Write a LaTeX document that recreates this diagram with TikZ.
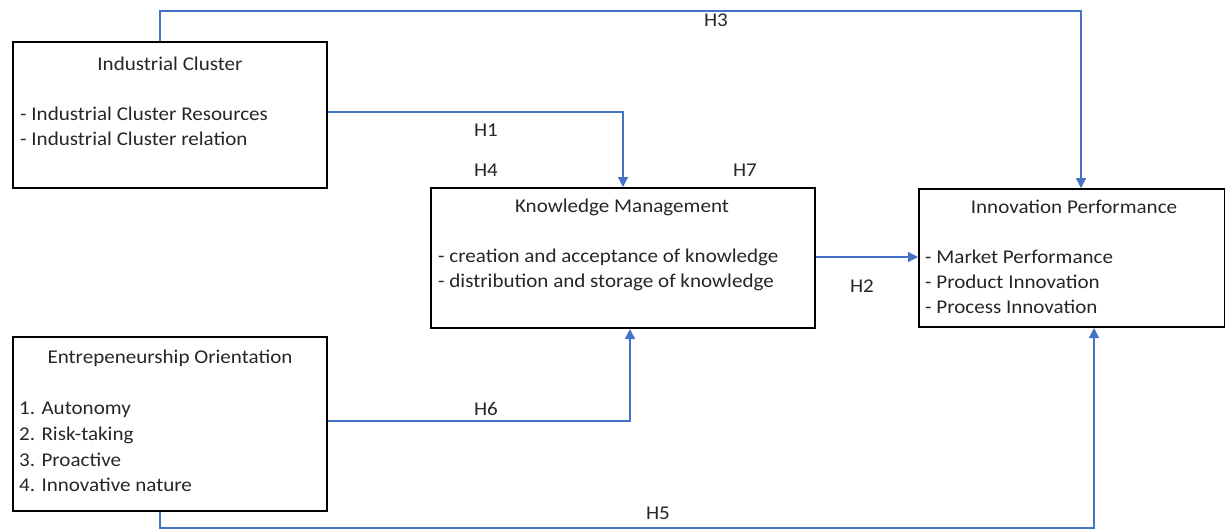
\documentclass[tikz,border=0pt]{standalone}
\usepackage{fontspec}
\setmainfont{Carlito}[FakeStretch=1.08]
\usetikzlibrary{arrows.meta}
\definecolor{linkblue}{HTML}{4472C4}
\definecolor{inktext}{HTML}{262626}
\begin{document}
\begin{tikzpicture}[x=1pt,y=-1pt,
  box/.style={draw=black,line width=2pt,inner sep=0pt,anchor=north west},
  conn/.style={draw=linkblue,line width=1.4pt,-{Triangle[length=10pt,width=10pt]}},
  txt/.style={inner sep=0pt,text=inktext,font=\fontsize{19.5}{25}\selectfont},
  ltxt/.style={txt,anchor=west},
  lbl/.style={txt}]
\useasboundingbox (0,0) rectangle (1225,531);
% boxes
\node[box,minimum width=314pt,minimum height=146pt] (ic) at (12,41) {};
\node[box,minimum width=384pt,minimum height=140pt] (km) at (430,187) {};
\node[box,minimum width=306pt,minimum height=138pt] (ip) at (918,188) {};
\node[box,minimum width=314pt,minimum height=174pt] (eo) at (12,336) {};
% texts
\node[txt] (ict) at (170,64) {Industrial Cluster};
\node[ltxt] (ic1) at (20,114) {- Industrial Cluster Resources};
\node[ltxt] (ic2) at (20,139) {- Industrial Cluster relation};
\node[txt] (kmt) at (622,207) {Knowledge Management};
\node[ltxt] (km1) at (438,257) {- creation and acceptance of knowledge};
\node[ltxt] (km2) at (438,282) {- distribution and storage of knowledge};
\node[txt] (ipt) at (1074,207) {Innovation Performance};
\node[ltxt] (ip1) at (925,257) {- Market Performance};
\node[ltxt] (ip2) at (925,282) {- Product Innovation};
\node[ltxt] (ip3) at (925,307) {- Process Innovation};
\node[txt] (eot) at (170,358) {Entrepeneurship Orientation};
\node[ltxt] (eo1) at (19,410) {1. Autonomy};
\node[ltxt] (eo2) at (19,435) {2. Risk-taking};
\node[ltxt] (eo3) at (19,460) {3. Proactive};
\node[ltxt] (eo4) at (19,485) {4. Innovative nature};
% labels
\node[lbl] (h3) at (716,20) {H3};
\node[lbl] (h1) at (486,130) {H1};
\node[lbl] (h4) at (486,170) {H4};
\node[lbl] (h7) at (745,170) {H7};
\node[lbl] (h2) at (862,286) {H2};
\node[lbl] (h6) at (486,409) {H6};
\node[lbl] (h5) at (658,513) {H5};
% routing coordinates
\coordinate (c3a) at (160,0);
\coordinate (c3b) at (1081,11);
\coordinate (c1) at (623,112);
\coordinate (c2) at (0,257);
\coordinate (c6) at (630,421);
\coordinate (c5a) at (160,0);
\coordinate (c5b) at (1094,528);
% connectors
\draw[conn] (ic.north -| c3a) |- (c3b) -- (ip.north -| c3b);
\draw[conn] (ic.east |- c1) -| (km.north -| c1);
\draw[conn] (km.east |- c2) -- (ip.west |- c2);
\draw[conn] (eo.east |- c6) -| (km.south -| c6);
\draw[conn] (eo.south -| c5a) |- (c5b) -- (ip.south -| c5b);
\end{tikzpicture}
\end{document}
